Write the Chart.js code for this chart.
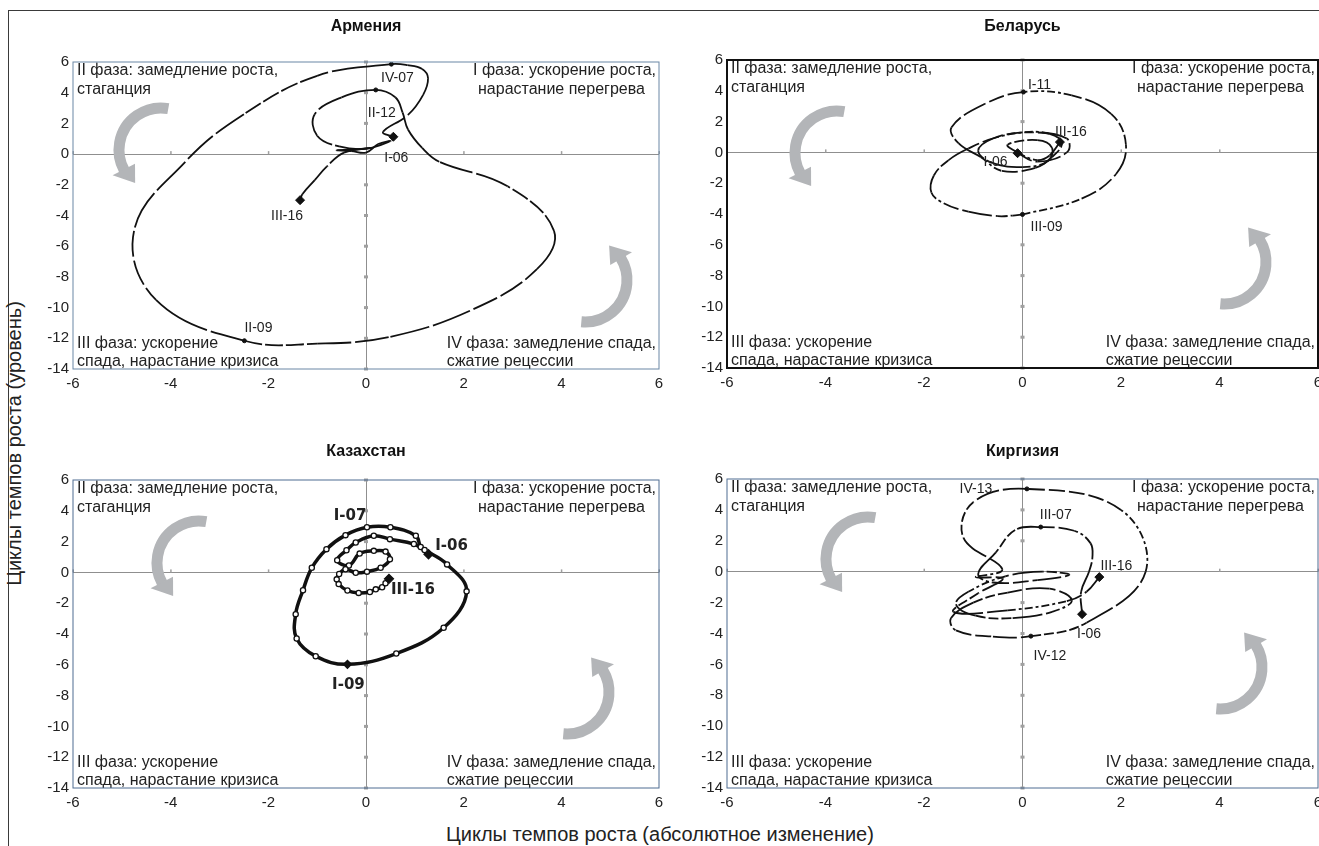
<!DOCTYPE html>
<html>
<head>
<meta charset="utf-8">
<script src="https://cdn.jsdelivr.net/npm/chart.js@4.4.1/dist/chart.umd.min.js"></script>
<style>
  body { margin: 0; background: #fff; width: 1319px; height: 846px; overflow: hidden; position: relative;
         font-family: 'Liberation Sans', Arial, sans-serif; color: #222; }
  .frame { position: absolute; left: 8px; top: 10px; width: 1400px; height: 900px; border: 1px solid #3a3a3a; }
  canvas { position: absolute; }
  .axis-title { position: absolute; font-size: 20px; white-space: nowrap; color: #222; }
</style>
</head>
<body>
<div class="frame"></div>
<canvas id="armenia"></canvas>
<canvas id="belarus"></canvas>
<canvas id="kazakhstan"></canvas>
<canvas id="kyrgyzstan"></canvas>
<div class="axis-title" id="xTitle">Циклы темпов роста (абсолютное изменение)</div>
<div class="axis-title" id="yTitle">Циклы темпов роста (уровень)</div>

<script>
// quarters I-06 ... III-16
const quarters = [];
for (let yr = 6; yr <= 16; yr++) {
    ['I', 'II', 'III', 'IV'].forEach(q => {
        if (yr === 16 && q === 'IV') return;
        quarters.push(q + '-' + String(yr).padStart(2, '0'));
    });
}

const xTicks = [-6, -4, -2, 0, 2, 4, 6];
const yTicks = [-14, -12, -10, -8, -6, -4, -2, 0, 2, 4, 6];

// Армения
const armeniaX = [0.56, 0.35, 0.86, 1.17, 1.27, 1.15, 0.85, 0.52, -1.0, -2.5, -3.7, -4.75, -4.3, -2.49,
    -1.0, 0.5, 2.2, 3.5, 3.85, 2.9, 1.5, 1.15, 0.86, 0.75, 0.6, 0.2, -0.5, -1.05, -1.0, -0.55,
    0.0, 0.5, 0.25, 0.0, -0.3, -0.6, -0.2, 0.1, -0.45, -0.8, -1.05, -1.3, -1.35];
const armeniaY = [1.13, 1.45, 2.55, 3.86, 4.95, 5.55, 5.8, 5.86, 5.1, 2.6, -0.5, -5.0, -9.5, -12.16,
    -12.35, -11.9, -10.1, -7.5, -5.0, -2.1, -0.5, 0.4, 1.6, 2.7, 3.7, 4.18, 3.7, 2.6, 1.2, 0.5,
    0.35, 0.85, 0.65, 0.1, 0.2, 0.25, 0.3, 0.4, 0.1, -0.8, -1.7, -2.6, -3.0];
const armeniaMarked = ['IV-07', 'II-09', 'II-12'];

// Беларусь
const belarusX = [-0.1, 0.3, 0.9, 0.9, 0.2, -0.5, -1.1, -1.5, -1.8, -1.85, -1.6, -1.1, -0.5, -0.2,
    0.0, 1.2, 1.9, 2.1, 1.8, 1.0, 0.02, -0.76, -1.44, -1.3, -0.85, -0.42, 0.26, 0.6, 0.8, 0.55,
    0.0, -0.6, -0.9, -0.6, 0.0, 0.5, 0.6, 0.3, -0.3, -0.1, 0.3, 0.55, 0.76];
const belarusY = [-0.05, -0.6, 0.0, 0.9, 1.3, 1.0, 0.25, -0.5, -1.5, -2.6, -3.3, -3.85, -4.14, -4.1,
    -4.03, -3.0, -1.4, 0.5, 2.5, 3.7, 3.92, 3.16, 1.63, 0.6, -0.3, -1.2, -1.0, -0.3, 0.6, 1.2,
    1.3, 0.9, 0.1, -0.7, -0.95, -0.6, 0.3, 0.8, 0.5, 0.0, -0.5, -0.2, 0.67];
const belarusMarked = ['I-11', 'III-09'];

// Казахстан
const kazakhstanX = [1.28, 1.12, 1.02, 0.5, 0.02, -0.42, -0.81, -1.11, -1.29, -1.44, -1.42, -1.03, -0.38,
    0.62, 1.59, 2.06, 1.66, 1.2, 0.98, 0.49, 0.16, -0.21, -0.4, -0.59, -0.35, -0.13, 0.16, 0.4,
    0.49, 0.3, 0.02, -0.21, -0.42, -0.55, -0.6, -0.56, -0.38, -0.15, 0.08, 0.2, 0.33, 0.4, 0.47];
const kazakhstanY = [1.18, 1.65, 2.38, 2.93, 2.93, 2.42, 1.51, 0.3, -1.16, -2.71, -4.29, -5.44, -5.97,
    -5.27, -3.59, -1.23, 0.52, 1.45, 1.84, 2.16, 2.38, 1.94, 1.44, 0.79, 0.45, 1.22, 1.4, 1.35,
    0.85, 0.3, 0.05, -0.02, 0.2, -0.1, -0.45, -0.76, -1.18, -1.33, -1.27, -1.1, -0.96, -0.7, -0.42];

// Киргизия
const kyrgyzstanX = [1.21, 1.19, 1.35, 1.42, 1.38, 1.05, 0.37, -0.15, -0.54, -0.9, -0.6, 0.3, 0.95, 0.4,
    -0.35, -1.1, -1.35, -0.95, -0.2, 0.6, 1.0, 0.55, -0.3, -1.0, -1.45, -1.35, -0.6, 0.17,
    1.3, 2.5, 2.0, 0.09, -1.0, -1.2, -0.41, -0.95, -0.4, -0.9, -1.4, -0.3, 0.9, 1.3, 1.56];
const kyrgyzstanY = [-2.75, -1.3, 0.0, 0.95, 1.85, 2.65, 2.89, 2.7, 1.25, -0.15, -0.7, -0.55, -0.2, 0.0,
    -0.3, -1.3, -2.1, -2.85, -3.0, -2.6, -1.85, -1.1, -1.35, -2.0, -3.0, -3.8, -4.2, -4.17,
    -3.3, 0.0, 4.0, 5.36, 4.5, 2.2, 0.16, -0.35, -0.45, -1.4, -2.6, -2.5, -1.9, -1.3, -0.35];
const kyrgyzstanMarked = ['III-07', 'IV-12', 'IV-13'];

const phaseText = {
    tl: ['II фаза: замедление роста,', 'стаганция'],
    tr: ['I фаза: ускорение роста,', 'нарастание перегрева'],
    bl: ['III фаза: ускорение', 'спада, нарастание кризиса'],
    br: ['IV фаза: замедление спада,', 'сжатие рецессии']
};

const FONT = "'Liberation Sans', Arial, sans-serif";
// Excel-like dashes: long strokes broken at the data points
const dashLong = [[40, 4], [26, 4], [60, 4], [18, 3], [34, 4]];
const dashMid = [[16, 4], [24, 4], [10, 3], [30, 4], [8, 3, 3, 3]];

const panels = [
    {
        id: 'armenia', title: 'Армения', titleY: 26.5, xs: armeniaX, ys: armeniaY, marked: armeniaMarked,
        area: { l: 73, t: 62, r: 659, b: 369 }, frame: { color: '#6b87a5', width: 1 },
        arrows: [[88, 88], [512, 218]], dash: dashLong,
        labels: [['I-06', 3, 21], ['IV-07', 6, 14], ['II-12', 6, 23], ['II-09', 14, -13], ['III-16', -13, 16]],
        labelFont: '14px ' + FONT, solid: false
    },
    {
        id: 'belarus', title: 'Беларусь', titleY: 26.5, xs: belarusX, ys: belarusY, marked: belarusMarked,
        area: { l: 727, t: 60, r: 1318, b: 368 }, frame: { color: '#111', width: 2 },
        arrows: [[110, 93], [497, 202]], dash: dashMid,
        labels: [['I-06', -22, 9], ['III-16', 11, -10], ['I-11', 16, -7], ['III-09', 24, 13]],
        labelFont: '14px ' + FONT, solid: false
    },
    {
        id: 'kazakhstan', title: 'Казахстан', titleY: 451.5, xs: kazakhstanX, ys: kazakhstanY, marked: ['I-09'],
        area: { l: 73, t: 480, r: 659, b: 788 }, frame: { color: '#4f6d92', width: 1 },
        arrows: [[126, 83], [494, 212]], dash: null,
        labels: [['I-07', -17, -11], ['I-06', 23, -8], ['III-16', 24, 11], ['I-09', 1, 21]],
        labelFont: "bold 15px 'DejaVu Sans', Verdana, sans-serif", solid: true
    },
    {
        id: 'kyrgyzstan', title: 'Киргизия', titleY: 451.5, xs: kyrgyzstanX, ys: kyrgyzstanY, marked: kyrgyzstanMarked,
        area: { l: 727, t: 479, r: 1318, b: 788 }, frame: { color: '#4f6d92', width: 1 },
        arrows: [[141, 80], [493, 188]], dash: dashMid,
        labels: [['IV-13', -51, 0], ['III-07', 15, -12], ['III-16', 17, -11], ['I-06', 7, 20], ['IV-12', 19, 20]],
        labelFont: '14px ' + FONT, solid: false
    }
];

function curvedArrow(ctx, cx, cy, r, a0, a1, w) {
    const rad = d => d * Math.PI / 180;
    const headLen = 17;
    const headAng = headLen / r;
    ctx.save();
    ctx.strokeStyle = '#b3b5b8';
    ctx.fillStyle = '#b3b5b8';
    ctx.lineWidth = w;
    ctx.beginPath();
    ctx.arc(cx, cy, r, rad(a0), rad(a1) + headAng, true);
    ctx.stroke();
    const b = rad(a1) + headAng + 0.02;
    const hw = w * 1.15;
    ctx.beginPath();
    ctx.moveTo(cx + (r - hw) * Math.cos(b), cy + (r - hw) * Math.sin(b));
    ctx.lineTo(cx + (r + hw) * Math.cos(b), cy + (r + hw) * Math.sin(b));
    ctx.lineTo(cx + r * Math.cos(rad(a1)), cy + r * Math.sin(rad(a1)));
    ctx.closePath();
    ctx.fill();
    ctx.restore();
}

const decorPlugin = {
    id: 'decor',
    beforeDatasetsDraw(chart, args, opts) {
        const { ctx, chartArea: a } = chart;
        const xs = chart.scales.x, ys = chart.scales.y;
        const x0 = xs.getPixelForValue(0), y0 = ys.getPixelForValue(0);
        ctx.save();
        // tick marks on the zero lines
        ctx.fillStyle = '#a0a0a0';
        yTicks.forEach(v => { if (v !== 0) ctx.fillRect(x0 - 2, ys.getPixelForValue(v) - 1.5, 4, 3); });
        xTicks.forEach(v => { if (v !== 0) ctx.fillRect(xs.getPixelForValue(v) - 0.5, y0 - 3, 1.5, 3); });

        // phase captions
        ctx.fillStyle = '#222';
        ctx.font = '16px ' + FONT;
        ctx.textBaseline = 'middle';
        ctx.textAlign = 'left';
        ctx.fillText(phaseText.tl[0], a.left + 4, a.top + 9);
        ctx.fillText(phaseText.tl[1], a.left + 4, a.top + 28);
        ctx.fillText(phaseText.bl[0], a.left + 4, a.bottom - 25);
        ctx.fillText(phaseText.bl[1], a.left + 4, a.bottom - 7);
        let w = ctx.measureText(phaseText.tr[0]).width;
        ctx.fillText(phaseText.tr[0], a.right - 3 - w, a.top + 9);
        ctx.fillText(phaseText.tr[1], a.right - 3 - w + 5, a.top + 28);
        w = ctx.measureText(phaseText.br[0]).width;
        ctx.fillText(phaseText.br[0], a.right - 3 - w, a.bottom - 25);
        ctx.fillText(phaseText.br[1], a.right - 3 - w, a.bottom - 7);

        // curved phase arrows
        const [tl, br] = opts.arrows;
        curvedArrow(ctx, a.left + tl[0], a.top + tl[1], 42, -80, -232, 11);
        curvedArrow(ctx, a.left + br[0], a.top + br[1], 42, 95, -55, 11);

        // panel title
        ctx.font = 'bold 16px ' + FONT;
        ctx.textAlign = 'center';
        ctx.fillStyle = '#111';
        ctx.fillText(opts.title, (a.left + a.right) / 2, opts.titleY);
        ctx.restore();
    },
    afterDatasetsDraw(chart, args, opts) {
        const { ctx, chartArea: a } = chart;
        const meta = chart.getDatasetMeta(0);
        ctx.save();
        ctx.fillStyle = '#222';
        ctx.font = opts.labelFont;
        ctx.textAlign = 'center';
        ctx.textBaseline = 'middle';
        opts.labels.forEach(([q, dx, dy]) => {
            const p = meta.data[quarters.indexOf(q)];
            ctx.fillText(q, p.x + dx, p.y + dy);
        });
        ctx.strokeStyle = opts.frame.color;
        ctx.lineWidth = opts.frame.width;
        ctx.strokeRect(a.left, a.top, a.right - a.left, a.bottom - a.top);
        ctx.restore();
    }
};

panels.forEach(p => {
    const canvas = document.getElementById(p.id);
    const left = p.area.l - 42, top = p.area.t - 50;
    const width = p.area.r + 10 - left, height = p.area.b + 30 - top;
    canvas.width = width; canvas.height = height;
    canvas.style.left = left + 'px'; canvas.style.top = top + 'px';

    const last = quarters.length - 1;
    const isEnd = i => i === 0 || i === last;
    const isMarked = i => p.marked.includes(quarters[i]);

    new Chart(canvas.getContext('2d'), {
        type: 'scatter',
        data: {
            datasets: [{
                data: p.xs.map((x, i) => ({ x: x, y: p.ys[i] })),
                showLine: true,
                tension: 0.4,
                borderColor: '#111',
                borderWidth: p.solid ? 3.5 : 1.8,
                segment: p.solid ? {} : { borderDash: c => p.dash[c.p0DataIndex % p.dash.length] },
                pointStyle: c => (isEnd(c.dataIndex) || (p.solid && isMarked(c.dataIndex))) ? 'rectRot' : 'circle',
                pointRadius: c => {
                    const i = c.dataIndex;
                    if (isEnd(i)) return 4.5;
                    if (isMarked(i)) return p.solid ? 4 : 2;
                    return p.solid ? 2.6 : 0;
                },
                pointBackgroundColor: c => {
                    const i = c.dataIndex;
                    if (isEnd(i) || isMarked(i)) return '#111';
                    return '#fff';
                },
                pointBorderColor: '#111',
                pointBorderWidth: p.solid ? 1.3 : 1
            }]
        },
        options: {
            responsive: false,
            animation: false,
            events: [],
            layout: { padding: { left: 2, top: 50, right: 10, bottom: 2 }, autoPadding: false },
            scales: {
                x: {
                    type: 'linear', min: -6, max: 6,
                    ticks: { stepSize: 2, padding: 6, color: '#222', font: { size: 15, family: FONT } },
                    grid: { drawTicks: false, color: c => (c.tick && c.tick.value === 0) ? '#8f8f8f' : 'rgba(0,0,0,0)' },
                    border: { display: false },
                    afterFit: s => { s.height = 28; s.paddingLeft = 0; s.paddingRight = 0; }
                },
                y: {
                    type: 'linear', min: -14, max: 6,
                    ticks: { stepSize: 2, padding: 4, color: '#222', font: { size: 15, family: FONT } },
                    grid: { drawTicks: false, color: c => (c.tick && c.tick.value === 0) ? '#8f8f8f' : 'rgba(0,0,0,0)' },
                    border: { display: false },
                    afterFit: s => { s.width = 40; s.paddingTop = 0; s.paddingBottom = 0; }
                }
            },
            plugins: {
                legend: { display: false },
                tooltip: { enabled: false },
                decor: {
                    title: p.title, titleY: p.titleY - top, arrows: p.arrows,
                    labels: p.labels, labelFont: p.labelFont, frame: p.frame
                }
            }
        },
        plugins: [decorPlugin]
    });
});

// shared axis titles
const xTitle = document.getElementById('xTitle');
xTitle.style.left = (660 - xTitle.offsetWidth / 2) + 'px';
xTitle.style.top = (834 - xTitle.offsetHeight / 2) + 'px';
const yTitle = document.getElementById('yTitle');
yTitle.style.left = (14 - yTitle.offsetWidth / 2) + 'px';
yTitle.style.top = (443 - yTitle.offsetHeight / 2) + 'px';
yTitle.style.transform = 'rotate(-90deg)';
</script>
</body>
</html>
